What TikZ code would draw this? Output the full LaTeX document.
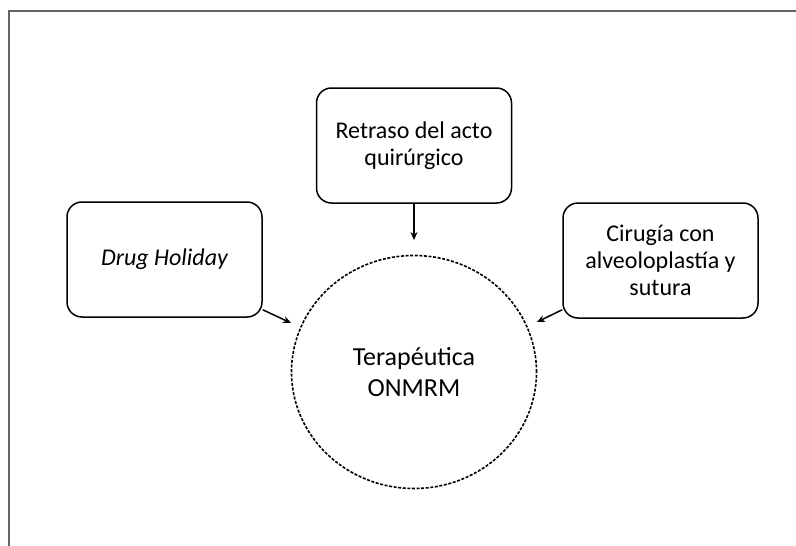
\documentclass[tikz,border=0pt]{standalone}
\usepackage{fontspec}
\setmainfont{Carlito}
\usetikzlibrary{arrows.meta,shapes.geometric,calc}
\tikzset{
  framerule/.style={draw=black!60, line width=2pt},
  rbox/.style={draw=black, line width=1.5pt, rounded corners=15pt, minimum width=195pt, minimum height=115pt, inner sep=0pt, align=center, font=\fontsize{24}{27}\selectfont},
  centre/.style={ellipse, draw=black, line width=1.6pt, dash pattern=on 3pt off 1.6pt, minimum width=245pt, minimum height=233pt, inner sep=0pt, align=center, font=\fontsize{26}{31}\selectfont},
  arr/.style={draw=black, line width=1.5pt, -{Stealth[length=8pt,width=7pt]}}
}
\begin{document}
\begin{tikzpicture}[x=1pt,y=-1pt]
\useasboundingbox (0,0) rectangle (796,546);
\fill[white] (0,0) rectangle (796,546);
\coordinate (ftl) at (9,11);
\coordinate (ftr) at (797,11);
\coordinate (fbl) at (9,547);
\draw[framerule] (ftr) -- (ftl) -- (fbl);
\node[rbox] (top) at (414,145.5) {Retraso del acto\\quirúrgico};
\node[rbox] (dh) at (164.5,259.5) {\itshape Drug Holiday};
\node[rbox] (cir) at (660.5,260.5) {Cirugía con\\alveoloplastía y\\sutura};
\node[centre] (c) at (414,372) {Terapéutica\\ONMRM};
\coordinate (le) at (291,323);
\coordinate (re) at (537,322);
\coordinate (te) at (414,240);
\draw[arr] (top.south) -- (te);
\draw[arr] ([yshift=8pt]dh.south east) -- (le);
\draw[arr] ([yshift=9pt]cir.south west) -- (re);
\end{tikzpicture}
\end{document}
